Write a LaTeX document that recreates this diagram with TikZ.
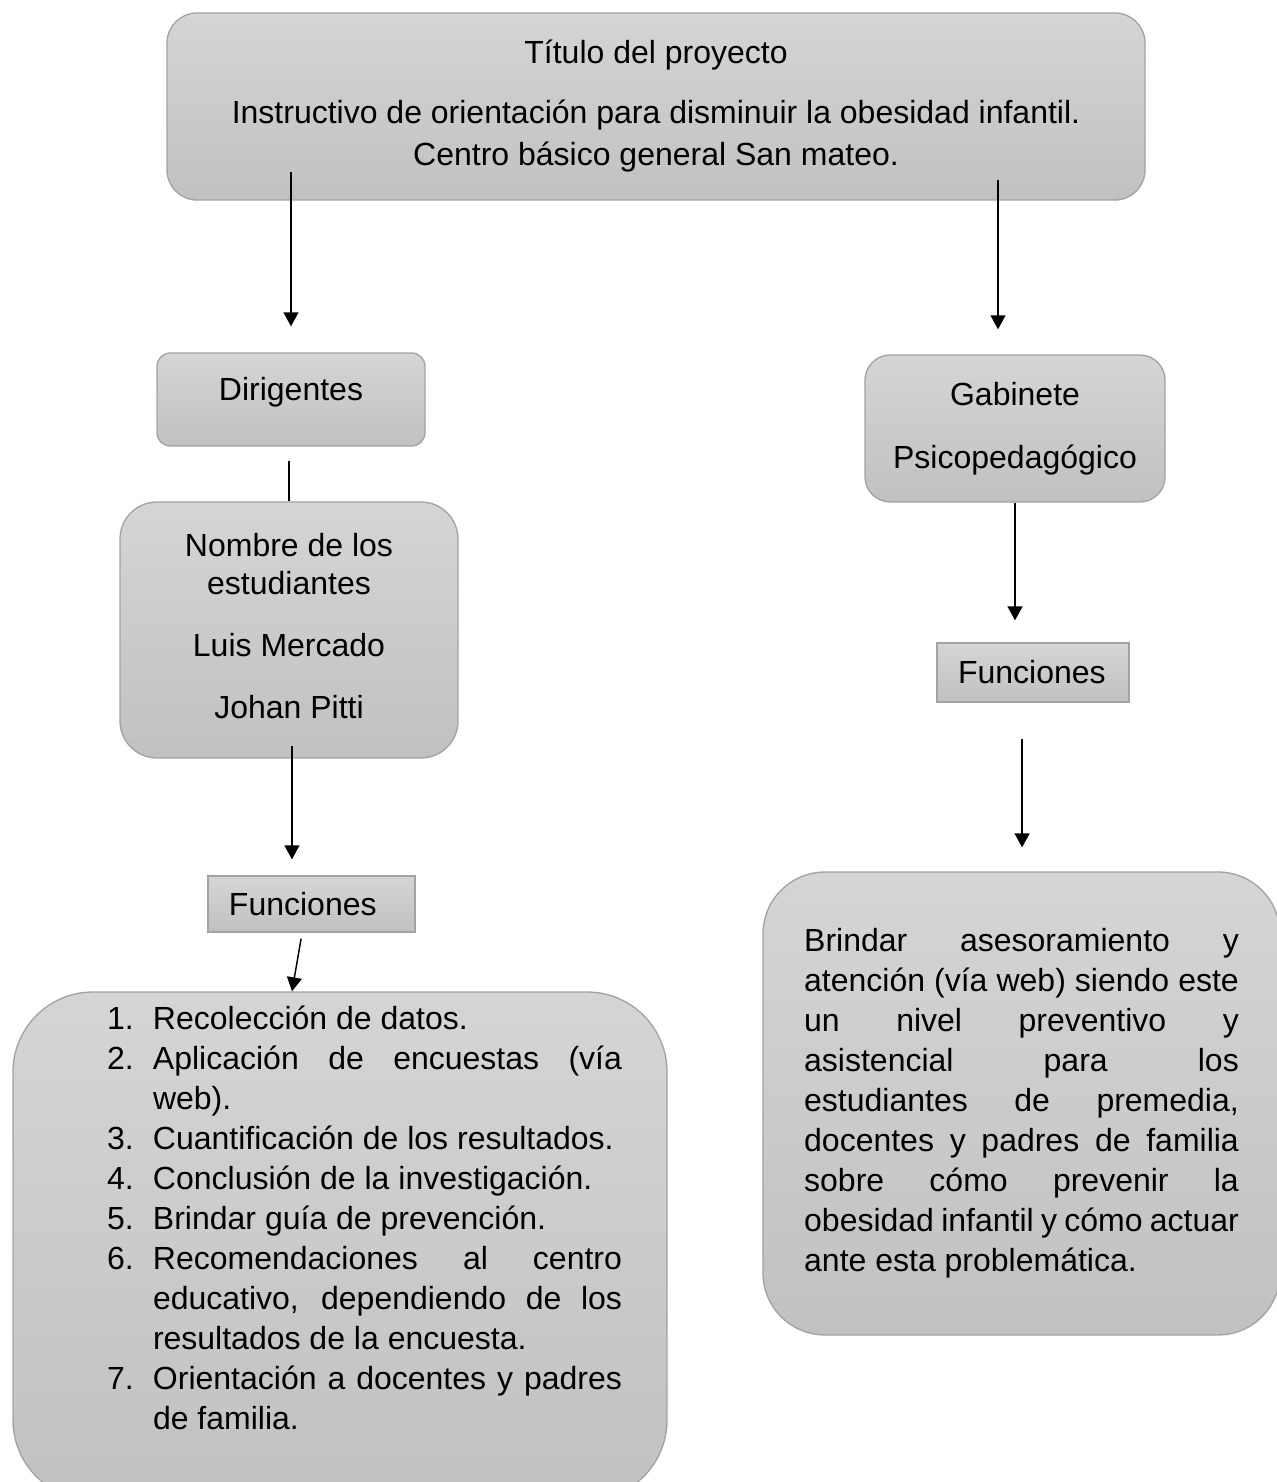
\documentclass[tikz,border=0pt]{standalone}
\usepackage{fontspec}
\setmainfont{Liberation Sans}
\usetikzlibrary{arrows.meta}
\definecolor{boxtop}{HTML}{D5D5D5}
\definecolor{boxbot}{HTML}{C1C1C1}
\definecolor{boxline}{HTML}{A3A3A3}
\setlength{\parindent}{0pt}
\hyphenpenalty=10000
\exhyphenpenalty=10000
\newcommand{\listitem}[2]{\hangindent=17.25pt\hangafter=1\makebox[17.25pt][l]{#1.}#2\par}

\begin{document}
\begin{tikzpicture}[x=0.375pt,y=-0.375pt,
  box/.style={draw=boxline, line width=0.5pt, top color=boxtop, bottom color=boxbot, text=black, align=center, font=\fontsize{12}{14.25}\selectfont},
  tag/.style={box, align=left, inner xsep=7.875pt},
  arr/.style={line width=0.55pt, -{Triangle[length=5.25pt,width=5.6pt]}},
  link/.style={line width=0.55pt}]
\path[fill=white, use as bounding box] (0,0) rectangle (1276,1482);

% proyecto
\node[box, rounded corners=11.25pt, minimum width=366.75pt, minimum height=70.125pt, font=\fontsize{12}{15.75}\selectfont] (title) at (656,106.5) {Título del proyecto\\[6.75pt] Instructivo de orientación para disminuir la obesidad infantil.\\ Centro básico general San mateo.};

% izquierda
\node[box, rounded corners=5pt, minimum width=100.5pt, minimum height=34.875pt, text depth=8pt] (dir) at (291,399.5) {Dirigentes};
\node[box, rounded corners=13.9pt, minimum width=126.75pt, minimum height=96pt] (est) at (289,630) {Nombre de los\\ estudiantes\\[9pt] Luis Mercado\\[9pt] Johan Pitti\rule[-3pt]{0pt}{0pt}};
\node[tag, text width=61.9pt, minimum height=21pt] (fun1) at (311.5,904) {Funciones};
\node[box, rounded corners=30pt, minimum width=245.25pt, minimum height=190.5pt, text width=211.5pt, align=justify, font=\fontsize{12}{15}\selectfont] (list) at (340,1246) {\leftskip=18.375pt\rightskip=0pt\parfillskip=0pt plus 1fil
  \listitem{1}{Recolección de datos.}
  \listitem{2}{Aplicación de encuestas (vía\linebreak web).}
  \listitem{3}{Cuantificación de los resultados.}
  \listitem{4}{Conclusión de la investigación.}
  \listitem{5}{Brindar guía de prevención.}
  \listitem{6}{Recomendaciones al centro\linebreak educativo, dependiendo de los\linebreak resultados de la encuesta.}
  \listitem{7}{Orientación a docentes y padres\linebreak de familia.\rule[-21pt]{0pt}{21pt}}};

% derecha
\node[box, rounded corners=9.4pt, minimum width=112.5pt, minimum height=55.1pt] (gab) at (1015,428.5) {Gabinete\\[9.4pt] Psicopedagógico};
\node[tag, text width=56.25pt, minimum height=22.1pt] (fun2) at (1033,672.5) {Funciones};
\node[box, rounded corners=23.25pt, minimum width=193.9pt, minimum height=173.6pt, text width=163pt, align=justify, font=\fontsize{12}{15}\selectfont] (serv) at (1021.5,1103.5) {\rightskip=0pt\parfillskip=0pt plus 1fil
  Brindar asesoramiento y\linebreak atención (vía web) siendo este\linebreak un nivel preventivo y\linebreak asistencial para los\linebreak estudiantes de premedia,\linebreak docentes y padres de familia\linebreak sobre cómo prevenir la\linebreak obesidad infantil y cómo actuar\linebreak ante esta problemática.};

% flechas
\coordinate (t1) at (291,172);
\coordinate (t2) at (998,180);
\draw[arr] (t1) -- ([yshift=9.75pt]t1 |- dir.north);
\draw[arr] (t2) -- ([yshift=9.4pt]t2 |- gab.north);
\draw[link] ([yshift=-5.25pt]dir.south -| est.north) -- (est.north);
\draw[arr] ([xshift=1.1pt,yshift=4.9pt]est.south) -- ([xshift=1.1pt,yshift=6pt]est.south |- fun1.north);
\draw[arr] ([xshift=-3.9pt,yshift=-2.25pt]fun1.south) -- ([xshift=-18pt]list.north);
\draw[arr] (gab.south) -- ([yshift=8.25pt]gab.south |- fun2.north);
\draw[arr] ([xshift=-4.1pt,yshift=-13.5pt]fun2.south) -- ([xshift=-4.1pt,yshift=9pt]fun2.south |- serv.north);
\end{tikzpicture}
\end{document}
